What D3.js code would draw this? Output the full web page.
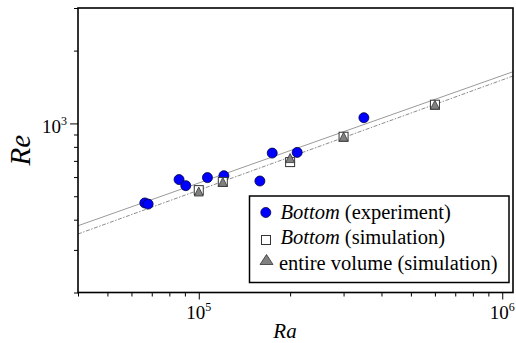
<!DOCTYPE html>
<html>
<head>
<script src="https://d3js.org/d3.v7.min.js"></script>
</head>
<body style="margin:0">
<svg width="516" height="343" font-family="Liberation Serif"></svg>
<script>
// experiment, bottom region
var raExp = [66400, 68100, 86100, 90600, 106800, 121000, 159000, 174600, 211000, 350000];
var reExp = [469, 464, 586, 553, 597, 608, 578, 754, 759, 1056];

// simulation runs
var raSim = [1e5, 1.2e5, 2e5, 3e5, 6e5];
var reSimBottom = [530, 573, 692, 881, 1195];
var reSimVolume = [523, 573, 719, 881, 1195];

// power-law fits Re = C * Ra^n  ->  [C, n]
var fitExp = [3.41, 0.4442];
var fitSim = [2.79, 0.4557];

var xMajor = [1e5, 1e6], xMajorExp = ["5", "6"];
var xMinor = [4e4, 5e4, 6e4, 7e4, 8e4, 9e4, 2e5, 3e5, 4e5, 5e5, 6e5, 7e5, 8e5, 9e5];
var yMajor = [1000], yMajorExp = ["3"];
var yMinor = [200, 300, 400, 500, 600, 700, 800, 900, 2000, 3000];

var svg = d3.select("svg"),
    margin = {top: 8, right: 3, bottom: 50.5, left: 78},
    width = +svg.attr("width") - margin.left - margin.right,
    height = +svg.attr("height") - margin.top - margin.bottom;

var x = d3.scaleLog().domain([4e4, 1.085e6]).range([0, width]);
var y = d3.scaleLog().domain([200, 3000]).range([height, 0]);

var g = svg.append("g")
    .attr("transform", "translate(" + margin.left + "," + margin.top + ")");

g.append("defs").append("clipPath").attr("id", "clip")
    .append("rect").attr("width", width).attr("height", height);

// fit lines
var line = d3.line()
    .x(function(d) { return x(d[0]); })
    .y(function(d) { return y(d[1]); });

function fitPts(f) {
    return x.domain().map(function(ra) { return [ra, f[0] * Math.pow(ra, f[1])]; });
}

g.append("path")
    .datum(fitPts(fitExp))
    .attr("clip-path", "url(#clip)")
    .attr("fill", "none")
    .attr("stroke", "#9a9a9a")
    .attr("stroke-width", 1)
    .attr("d", line);

g.append("path")
    .datum(fitPts(fitSim))
    .attr("clip-path", "url(#clip)")
    .attr("fill", "none")
    .attr("stroke", "#8c8c8c")
    .attr("stroke-width", 1)
    .attr("stroke-dasharray", "4,1.5,1.5,1.5")
    .attr("d", line);

function triPath(w, h) {
    return "M0," + (-h / 2) + "L" + (w / 2) + "," + (h / 2) + "L" + (-w / 2) + "," + (h / 2) + "Z";
}

// markers
g.selectAll(".exp")
    .data(raExp)
    .enter().append("circle")
    .attr("class", "exp")
    .attr("cx", function(d) { return x(d); })
    .attr("cy", function(d, i) { return y(reExp[i]); })
    .attr("r", 5)
    .attr("fill", "#0000ff")
    .attr("stroke", "#00003a")
    .attr("stroke-width", 0.8);

g.selectAll(".simb")
    .data(raSim)
    .enter().append("rect")
    .attr("class", "simb")
    .attr("x", function(d) { return x(d) - 4.5; })
    .attr("y", function(d, i) { return y(reSimBottom[i]) - 4.5; })
    .attr("width", 9)
    .attr("height", 9)
    .attr("fill", "#fff")
    .attr("stroke", "#333")
    .attr("stroke-width", 1);

g.selectAll(".simv")
    .data(raSim)
    .enter().append("path")
    .attr("class", "simv")
    .attr("transform", function(d, i) { return "translate(" + x(d) + "," + y(reSimVolume[i]) + ")"; })
    .attr("d", triPath(9, 9))
    .attr("fill", "#808080")
    .attr("stroke", "#333")
    .attr("stroke-width", 0.8);

// frame
g.append("rect")
    .attr("width", width)
    .attr("height", height)
    .attr("fill", "none")
    .attr("stroke", "#000")
    .attr("stroke-width", 1.6);

// ticks
g.append("g")
    .attr("transform", "translate(0," + height + ")")
    .call(d3.axisBottom(x).tickValues(xMinor).tickSize(4).tickFormat(""))
    .call(function(a) { a.select(".domain").remove(); });
g.append("g")
    .attr("transform", "translate(0," + height + ")")
    .call(d3.axisBottom(x).tickValues(xMajor).tickSize(7).tickFormat(""))
    .call(function(a) { a.select(".domain").remove(); });
g.append("g")
    .call(d3.axisLeft(y).tickValues(yMinor).tickSize(4).tickFormat(""))
    .call(function(a) { a.select(".domain").remove(); });
g.append("g")
    .call(d3.axisLeft(y).tickValues(yMajor).tickSize(8).tickFormat(""))
    .call(function(a) { a.select(".domain").remove(); });

// tick labels 10^n
var xl = g.selectAll(".xl")
    .data(xMajor)
    .enter().append("text")
    .attr("class", "xl")
    .attr("x", function(d) { return x(d); })
    .attr("y", height + 26)
    .attr("text-anchor", "middle")
    .attr("font-family", "Liberation Serif")
    .attr("font-size", 19);
xl.append("tspan").text("10");
xl.append("tspan").attr("dy", -8).attr("font-size", 12).text(function(d, i) { return xMajorExp[i]; });

var yl = g.selectAll(".yl")
    .data(yMajor)
    .enter().append("text")
    .attr("class", "yl")
    .attr("x", -11)
    .attr("y", function(d) { return y(d) + 10; })
    .attr("text-anchor", "end")
    .attr("font-family", "Liberation Serif")
    .attr("font-size", 19);
yl.append("tspan").text("10");
yl.append("tspan").attr("dy", -8).attr("font-size", 12).text(function(d, i) { return yMajorExp[i]; });

// axis titles
svg.append("text")
    .attr("x", 285)
    .attr("y", 338)
    .attr("text-anchor", "middle")
    .attr("font-family", "Liberation Serif")
    .attr("font-size", 21)
    .attr("font-style", "italic")
    .text("Ra");

svg.append("text")
    .attr("transform", "translate(30," + (margin.top + height / 2) + ") rotate(-90)")
    .attr("text-anchor", "middle")
    .attr("font-family", "Liberation Serif")
    .attr("font-size", 29)
    .attr("font-style", "italic")
    .text("Re");

// legend
var lg = svg.append("g").attr("transform", "translate(249.5,196)");
lg.append("rect")
    .attr("width", 259.5)
    .attr("height", 86.5)
    .attr("fill", "#fff")
    .attr("stroke", "#000")
    .attr("stroke-width", 1.5);

var rows = [16.5, 44, 63.5];
lg.append("circle").attr("cx", 16.3).attr("cy", rows[0]).attr("r", 5)
    .attr("fill", "#0000ff").attr("stroke", "#00003a").attr("stroke-width", 0.8);
lg.append("rect").attr("x", 12).attr("y", rows[1] - 4.5).attr("width", 9).attr("height", 9)
    .attr("fill", "#fff").attr("stroke", "#333");
lg.append("path").attr("transform", "translate(17," + rows[2] + ")").attr("d", triPath(13, 10))
    .attr("fill", "#808080").attr("stroke", "#333").attr("stroke-width", 0.8);

var labels = [["Bottom", " (experiment)"], ["Bottom", " (simulation)"], ["", "entire volume (simulation)"]];
var lt = lg.selectAll(".lt")
    .data(labels)
    .enter().append("text")
    .attr("class", "lt")
    .attr("x", function(d, i) { return i === 2 ? 29.5 : 31; })
    .attr("y", function(d, i) { return [22.5, 48, 73.5][i]; })
    .attr("font-family", "Liberation Serif")
    .attr("font-size", 20.5);
lt.append("tspan").attr("font-style", "italic").text(function(d) { return d[0]; });
lt.append("tspan").text(function(d) { return d[1]; });
</script>
</body>
</html>
